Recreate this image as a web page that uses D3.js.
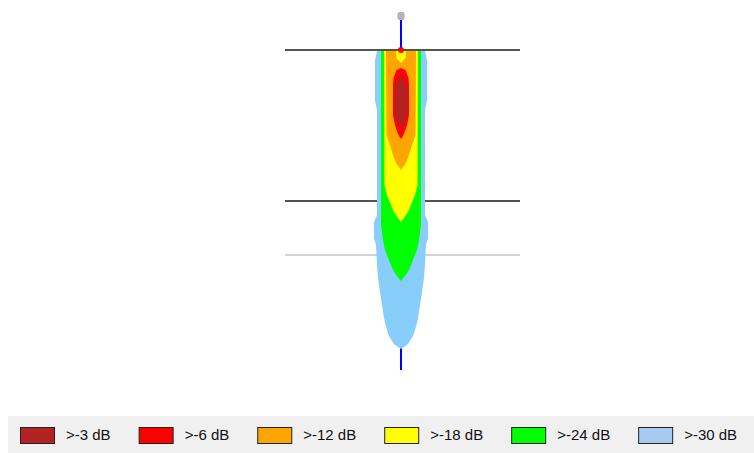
<!DOCTYPE html>
<html>
<head>
<meta charset="utf-8">
<script src="https://cdn.jsdelivr.net/npm/d3@7"></script>
<style>
  body { margin: 0; background: #fff; }
  .legendLabel { font-family: "Liberation Sans", Arial, sans-serif; font-size: 15px; fill: #111; }
</style>
</head>
<body>
<div id="container-svg"></div>
<script>

// ***************************** DATA *****************************
var levels = [">-3 dB", ">-6 dB", ">-12 dB", ">-18 dB", ">-24 dB", ">-30 dB"];

// contour profiles: [depth (m), half width (m)]
var profile_30 = [[0.1, 2.4], [1.0, 2.6], [5.0, 2.6], [6.0, 2.4], [16.5, 2.4], [17.2, 2.7], [18.8, 2.7],
    [19.5, 2.5], [21.5, 2.4], [22.8, 2.3], [24.2, 2.1], [25.5, 1.9], [26.5, 1.75], [27.3, 1.6],
    [28.0, 1.4], [28.6, 1.2], [29.0, 0.95], [29.4, 0.7], [29.7, 0.3], [29.9, 0]];
var profile_24 = [[0.1, 2.0], [15.0, 2.0], [17.5, 2.0], [19.0, 1.8], [20.0, 1.6], [21.0, 1.2],
    [22.0, 0.8], [22.6, 0.4], [23.1, 0]];
var profile_18 = [[0.1, 1.7], [13.5, 1.65], [14.5, 1.4], [15.5, 1.0], [16.2, 0.7], [16.8, 0.3], [17.2, 0]];
var profile_12 = [[0.1, 1.5], [8.5, 1.45], [9.5, 1.1], [10.5, 0.8], [11.3, 0.5], [12.0, 0]];
var profile_6 = [[1.8, 0], [2.0, 0.45], [2.8, 0.75], [3.5, 0.8], [6.5, 0.8], [7.3, 0.65], [8.0, 0.45],
    [8.5, 0.25], [8.9, 0]];
var profile_3 = [[2.6, 0], [3.0, 0.35], [3.8, 0.6], [6.4, 0.6], [7.1, 0.4], [7.8, 0]];
var notch_18 = [[0.1, 0.5], [0.8, 0.45], [1.3, 0]];   // near field spot inside -12 dB

// horizontal reference lines: depth (m)
var ref_depths = [0, 15.1, 20.5];
var ref_extent = [-11.6, 11.9];
var source_depth = -3.4,
    axis_end_depth = 32;

var palette_plot = ["#b22222", "#ff0000", "#ffa500", "#ffff00", "#00ff00", "#87cefa"];
var palette_legend = ["#b22222", "#ff0000", "#ffa500", "#ffff00", "#00ff00", "#a6caf0"];
var ref_colors = ["#1a1a1a", "#1a1a1a", "#c4c4c4"];

// ************************ GLOBAL DISPLAY VARS ************************
var svg_width = 754,
    svg_height = 453,
    X_CENTER = 401,
    Y_TOP = 50,
    PX_PER_M = 10;

var svg = d3.select("#container-svg").append("svg")
    .attr("width", svg_width)
    .attr("height", svg_height);

// ***************************** SCALES ******************************
var scale_x = d3.scaleLinear().domain([0, 1]).range([X_CENTER, X_CENTER + PX_PER_M]);
var scale_y = d3.scaleLinear().domain([0, 1]).range([Y_TOP, Y_TOP + PX_PER_M]);

// ************************** REFERENCE LINES **************************
svg.append("line")
    .attr("x1", scale_x(0)).attr("x2", scale_x(0))
    .attr("y1", scale_y(source_depth)).attr("y2", scale_y(axis_end_depth))
    .attr("stroke", "#0000ff")
    .attr("stroke-width", 2);

svg.selectAll("line.ref")
    .data(ref_depths)
    .enter()
    .append("line")
      .attr("class", "ref")
      .attr("x1", scale_x(ref_extent[0]))
      .attr("x2", scale_x(ref_extent[1]))
      .attr("y1", d => scale_y(d))
      .attr("y2", d => scale_y(d))
      .attr("stroke", (d, i) => ref_colors[i])
      .attr("stroke-width", 1.6);

// ***************************** CONTOURS ******************************
var area = d3.area()
    .y(d => scale_y(d[0]))
    .x0(d => scale_x(-d[1]))
    .x1(d => scale_x(d[1]))
    .curve(d3.curveLinear);

var contours = [
    {profile: profile_30, color: palette_plot[5]},
    {profile: profile_24, color: palette_plot[4]},
    {profile: profile_18, color: palette_plot[3]},
    {profile: profile_12, color: palette_plot[2]},
    {profile: notch_18,   color: palette_plot[3]},
    {profile: profile_6,  color: palette_plot[1]},
    {profile: profile_3,  color: palette_plot[0]}
];

svg.selectAll("path.contour")
    .data(contours)
    .enter()
    .append("path")
      .attr("class", "contour")
      .attr("d", d => area(d.profile))
      .attr("fill", d => d.color);

// source marker + top red dot
svg.append("rect")
    .attr("x", scale_x(0) - 3.5)
    .attr("y", scale_y(source_depth) - 4)
    .attr("width", 7)
    .attr("height", 8)
    .attr("rx", 2)
    .attr("fill", "#b4b4b4");

svg.append("circle")
    .attr("cx", scale_x(0))
    .attr("cy", scale_y(0))
    .attr("r", 3)
    .attr("fill", "#ff0000");

// ****************************** LEGEND *******************************
svg.append("rect")
    .attr("x", 8)
    .attr("y", 416)
    .attr("width", svg_width - 8)
    .attr("height", svg_height - 416)
    .attr("fill", "#f0f0f0");

var lx = 20;
for (var i = 0; i < levels.length; i++) {
    svg.append("rect")
        .attr("x", lx + 0.5)
        .attr("y", 427.5)
        .attr("width", 34)
        .attr("height", 16)
        .attr("fill", palette_legend[i])
        .attr("stroke", "#222")
        .attr("stroke-width", 1);

    var t = svg.append("text")
        .attr("class", "legendLabel")
        .attr("x", lx + 46)
        .attr("y", 436)
        .attr("dominant-baseline", "middle")
        .text(levels[i]);

    lx = lx + 46 + t.node().getComputedTextLength() + 28;
}

</script>
</body>
</html>
